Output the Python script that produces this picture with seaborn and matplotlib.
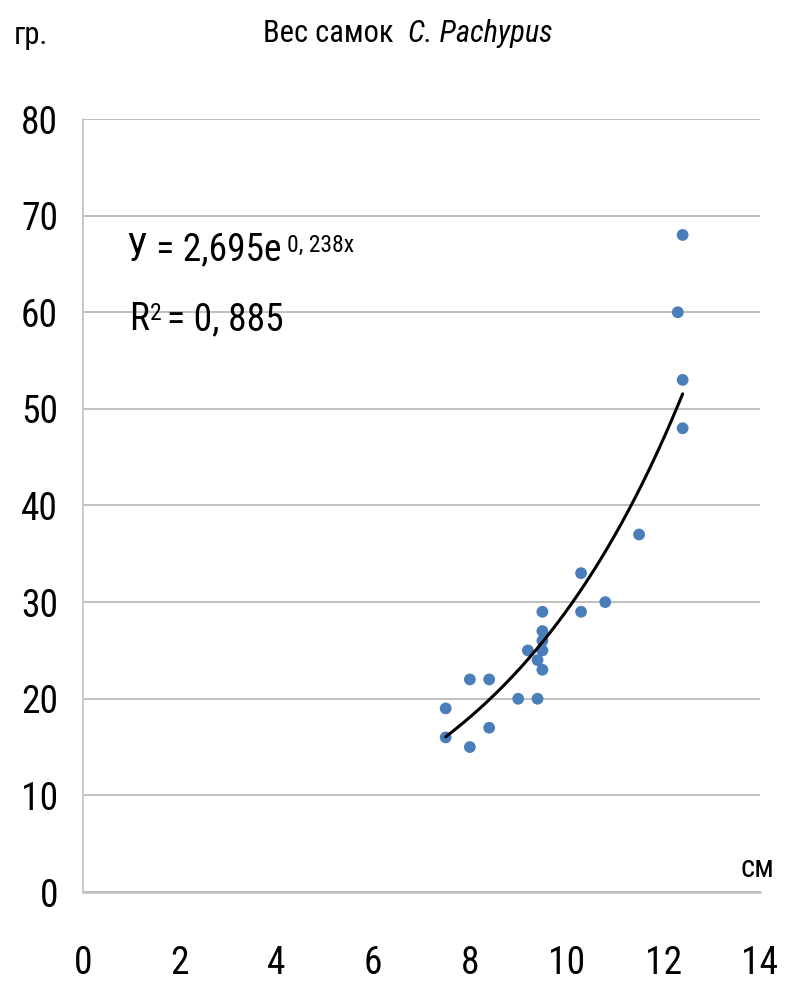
import numpy as np
import pandas as pd
import matplotlib
matplotlib.use("Agg")
import matplotlib.pyplot as plt
from matplotlib import font_manager
from matplotlib.ft2font import FT2Font
import seaborn as sns

# length (cm) and weight (gr.) of females
length_cm = [7.5, 7.5, 8.0, 8.0, 8.4, 8.4, 9.0, 9.2, 9.4, 9.4, 9.5, 9.5,
             9.5, 9.5, 9.5, 10.3, 10.3, 10.8, 11.5, 12.3, 12.4, 12.4, 12.4]
weight_gr = [19, 16, 22, 15, 22, 17, 20, 25, 24, 20, 29, 27,
             26, 25, 23, 33, 29, 30, 37, 60, 68, 53, 48]

# exponential trend shown on the chart
coef_a = 2.695
coef_b = 0.238
eq_text = "У = 2,695e"
eq_exp = "0, 238x"
r2_lead = "R"
r2_sup = "2"
r2_tail = "= 0, 885"

x_ticks = [0, 2, 4, 6, 8, 10, 12, 14]
y_ticks = [0, 10, 20, 30, 40, 50, 60, 70, 80]

sns.set_style("white")


def has_cyr(path):
    try:
        cm = FT2Font(path).get_charmap()
        return 0x412 in cm and 0x43A in cm
    except Exception:
        return False


# a narrow face with Cyrillic, closest to the squeezed Calibri of the original
prefs = ["Roboto Condensed", "PT Sans Narrow", "Fira Sans Condensed",
         "IBM Plex Sans Condensed", "Open Sans Condensed", "Ubuntu Condensed",
         "Liberation Sans Narrow", "Carlito"]
fl = font_manager.fontManager.ttflist
chosen = None
for p in prefs:
    for f in fl:
        if f.name == p and f.style == "normal" and has_cyr(f.fname):
            chosen = p
            break
    if chosen:
        break
if chosen is None:
    chosen = "Liberation Sans"

plt.rcParams["font.family"] = [chosen, "Liberation Sans", "DejaVu Sans"]
plt.rcParams["text.color"] = "black"

df = pd.DataFrame({"len": length_cm, "w": weight_gr})

fig = plt.figure(figsize=(8.05, 9.88), dpi=100)
ax = fig.add_axes([83 / 805, 1 - 892 / 988, (760 - 83) / 805, (892 - 119) / 988])

grid_c = "#c0c0c0"
ax.set_xlim(0, 14)
ax.set_ylim(0, 80)
ax.set_xticks(x_ticks)
ax.set_yticks(y_ticks)
ax.yaxis.grid(True, color=grid_c, lw=1.4)
ax.xaxis.grid(False)
ax.set_axisbelow(True)

for s in ["top", "right"]:
    ax.spines[s].set_visible(False)
ax.spines["left"].set_color(grid_c)
ax.spines["left"].set_linewidth(1.2)
ax.spines["bottom"].set_color(grid_c)
ax.spines["bottom"].set_linewidth(1.8)

ax.tick_params(axis="y", direction="out", length=7, width=1.2, color=grid_c,
               labelcolor="black", labelsize=27, pad=11)
ax.tick_params(axis="x", direction="out", length=12, width=1.2, color=grid_c,
               labelcolor="black", labelsize=27, pad=26)

sns.scatterplot(data=df, x="len", y="w", ax=ax, color="#4a7ebb", s=72,
                edgecolor="none", zorder=3)

xs = np.linspace(min(length_cm), max(length_cm), 200)
ax.plot(xs, coef_a * np.exp(coef_b * xs), color="black", lw=2.2, zorder=4)

ax.set_xlabel("")
ax.set_ylabel("")

# equation and R²
eq = fig.text(127 / 805, 1 - 250 / 988, eq_text, fontsize=27, va="center", ha="left")
ax.annotate(eq_exp, xy=(1, 1), xycoords=eq, xytext=(4, -2), textcoords="offset points",
            fontsize=17, va="top", ha="left", annotation_clip=False)
r = fig.text(129 / 805, 1 - 320 / 988, r2_lead, fontsize=27, va="center", ha="left")
ax.annotate(r2_sup, xy=(1, 1), xycoords=r, xytext=(1, 0), textcoords="offset points",
            fontsize=17, va="top", ha="left", annotation_clip=False)
ax.annotate(r2_tail, xy=(1, 0), xycoords=r, xytext=(13, 0), textcoords="offset points",
            fontsize=27, va="bottom", ha="left", annotation_clip=False)

# titles and axis units
fig.text(393 / 805, 1 - 33 / 988, "Вес самок", fontsize=22, va="center", ha="right")
fig.text(408 / 805, 1 - 33 / 988, "C. Pachypus", fontsize=22, va="center", ha="left",
         style="italic")
fig.text(14 / 805, 1 - 36 / 988, "гр.", fontsize=22, va="center", ha="left")
fig.text(740 / 805, 1 - 868 / 988, "см", fontsize=22, va="center", ha="left")

fig.savefig("out.png", dpi=100)
